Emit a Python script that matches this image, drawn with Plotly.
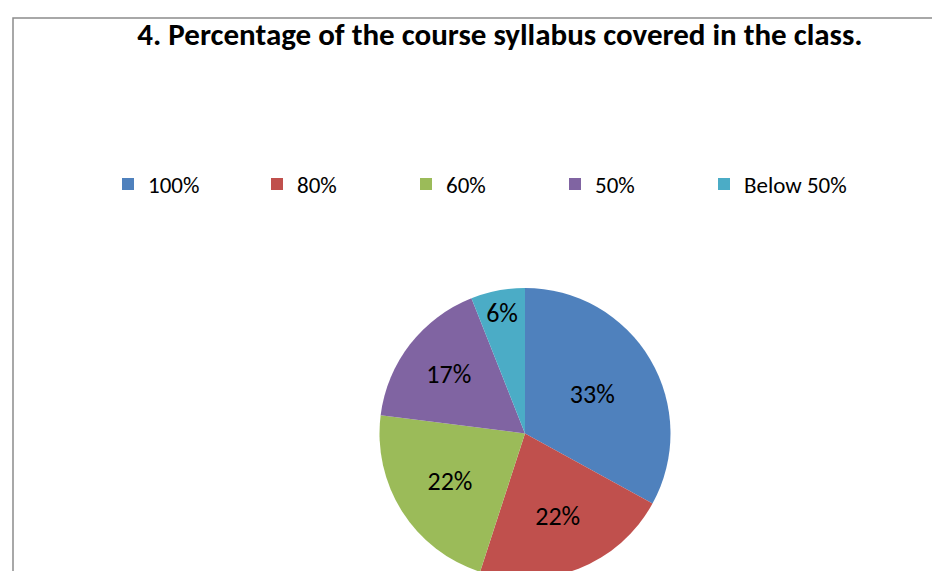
import plotly.graph_objects as go

categories = ["100%", "80%", "60%", "50%", "Below 50%"]
values = [33, 22, 22, 17, 6]
colors = ["#4F81BD", "#C0504D", "#9BBB59", "#8064A2", "#4BACC6"]
title_text = "4. Percentage of the course syllabus covered in the class."

W, H = 940, 571
FONT = "Carlito, Calibri, 'Liberation Sans', Arial, sans-serif"

fig = go.Figure()
fig.add_trace(go.Pie(
    labels=categories,
    values=values,
    sort=False,
    direction="clockwise",
    rotation=0,
    marker=dict(colors=colors, line=dict(width=0)),
    textinfo="percent",
    textposition="inside",
    insidetextorientation="horizontal",
    textfont=dict(size=26, color="black", family=FONT),
    domain=dict(x=[0.24, 0.86], y=[0.0, 1 - 280 / H]),
    hoverinfo="label+percent",
))

fig.update_layout(
    width=W, height=H,
    margin=dict(l=0, r=0, t=0, b=0),
    paper_bgcolor="white",
    plot_bgcolor="white",
    title=dict(text="<b>" + title_text + "</b>", x=492 / W, xanchor="center",
               y=1 - 26 / H, yanchor="middle",
               font=dict(size=31, color="black", family=FONT)),
    legend=dict(orientation="h", x=100 / W, xanchor="left", y=1 - 176 / H, yanchor="middle",
                font=dict(size=23, color="black", family=FONT),
                entrywidth=104, entrywidthmode="pixels",
                traceorder="normal"),
    showlegend=True,
    shapes=[dict(type="rect", xref="paper", yref="paper",
                 x0=5 / W, x1=1.02, y0=-0.02, y1=1 - 10 / H,
                 line=dict(color="#8c8c8c", width=1.5), fillcolor="rgba(0,0,0,0)", layer="below")],
)

fig.write_html("out.html")
